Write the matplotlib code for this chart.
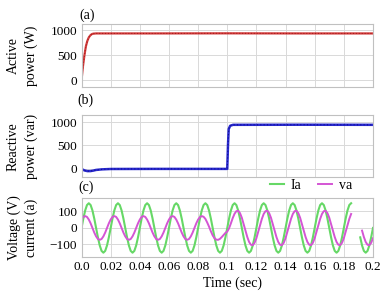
import numpy as np
import matplotlib
matplotlib.use("Agg")
import matplotlib.pyplot as plt

plt.rcParams['font.family'] = ['Liberation Serif', 'DejaVu Serif']

# (a) active power
t_p = [0, 0.001, 0.002, 0.003, 0.004, 0.005, 0.006, 0.007, 0.008, 0.010, 0.015, 0.05, 0.1, 0.15, 0.2]
p_active = [0, 280, 500, 680, 790, 860, 900, 925, 935, 940, 940, 940, 942, 940, 940]

# (b) reactive power
t_q = [0, 0.002, 0.004, 0.006, 0.008, 0.010, 0.014, 0.02, 0.05, 0.0995, 0.1, 0.1005, 0.101, 0.102, 0.104, 0.15, 0.2]
q_react = [0, -30, -45, -45, -35, -20, -8, 0, 2, 2, 2, 500, 850, 920, 940, 942, 940]

# (c) voltage / current, sampled every 1.25 ms
t_c = np.linspace(0, 0.2, 161)
nan = np.nan
ia = [0, 57, 106, 139, 150, 139, 106, 57, 0, -57, -106, -139, -150, -139, -106, -57,
      0, 57, 106, 139, 150, 139, 106, 57, 0, -57, -106, -139, -150, -139, -106, -57,
      0, 57, 106, 139, 150, 139, 106, 57, 0, -57, -106, -139, -150, -139, -106, -57,
      0, 57, 106, 139, 150, 139, 106, 57, 0, -57, -106, -139, -150, -139, -106, -57,
      0, 57, 106, 139, 150, 139, 106, 57, 0, -57, -106, -139, -150, -139, -106, -57,
      0, 57, 106, 139, 150, 139, 106, 57, 0, -57, -106, -139, -150, -139, -106, -57,
      0, 57, 106, 139, 150, 139, 106, 57, 0, -57, -106, -139, -150, -139, -106, -57,
      0, 57, 106, 139, 150, 139, 106, 57, 0, -57, -106, -139, -150, -139, -106, -57,
      0, 57, 106, 139, 150, 139, 106, 57, 0, -57, -106, -139, -150, -139, -106, -57,
      0, 57, 106, 139, 150, nan, nan, nan, nan, -57, -106, -139, -150, -139, -106, -57,
      0]
va = [51, 67, 72, 67, 51, 28, 0, -28, -51, -67, -72, -67, -51, -28, 0, 28,
      51, 67, 72, 67, 51, 28, 0, -28, -51, -67, -72, -67, -51, -28, 0, 28,
      51, 67, 72, 67, 51, 28, 0, -28, -51, -67, -72, -67, -51, -28, 0, 28,
      51, 67, 72, 67, 51, 28, 0, -28, -51, -67, -72, -67, -51, -28, 0, 28,
      51, 66, 72, 68, 55, 33, 8, -20, -45, -62, -71, -72, -66, -55, -42, -30,
      -22, -2, 28, 60, 86, 102, 104, 90, 62, 24, -16, -55, -85, -102, -104, -90,
      -62, -24, 16, 55, 85, 102, 104, 90, 62, 24, -16, -55, -85, -102, -104, -90,
      -62, -24, 16, 55, 85, 102, 104, 90, 62, 24, -16, -55, -85, -102, -104, -90,
      -62, -24, 16, 55, 85, 102, 104, 90, 62, 24, -16, -55, -85, -102, -104, -90,
      -62, -24, 16, 55, 85, nan, nan, nan, nan, nan, -16, -55, -85, -102, -104, -90,
      -62]

xticks = [0, 0.02, 0.04, 0.06, 0.08, 0.1, 0.12, 0.14, 0.16, 0.18, 0.2]
xlabels = ['0.0', '0.02', '0.04', '0.06', '0.08', '0.1', '0.12', '0.14', '0.16', '0.18', '0.2']

fig = plt.figure(figsize=(3.82, 3.02), dpi=100)
L, W = 0.2134, 0.763
ax_a = fig.add_axes([L, 0.7119, W, 0.2086])
ax_b = fig.add_axes([L, 0.4129, W, 0.2063])
ax_c = fig.add_axes([L, 0.148, W, 0.1954])

fs = 9.5
for ax in (ax_a, ax_b, ax_c):
    ax.set_xlim(0, 0.2)
    ax.set_xticks(xticks)
    ax.grid(True, color='#d9d9d9', lw=0.7)
    ax.set_axisbelow(True)
    ax.tick_params(length=0, labelsize=fs, pad=3)
    for s in ax.spines.values():
        s.set_color('#c0c0c0')
        s.set_linewidth(0.8)

ax_a.set_xticklabels([])
ax_b.set_xticklabels([])
ax_c.set_xticklabels(xlabels)

ax_a.plot(t_p, p_active, color='#d23c3c', lw=1.6)
ax_a.plot(t_p, p_active, color='#a01818', lw=0.7, ls=(0, (1, 2)))
ax_a.set_ylim(-140, 1130)
ax_a.set_yticks([0, 500, 1000])

ax_b.plot(t_q, q_react, color='#2a2ad0', lw=1.8)
ax_b.plot(t_q, q_react, color='#10108a', lw=0.8, ls=(0, (1, 2)))
ax_b.set_ylim(-177, 1149)
ax_b.set_yticks([0, 500, 1000])

ax_c.plot(t_c, ia, color='#66d866', lw=1.5, label='Ia')
ax_c.plot(t_c, va, color='#d455d4', lw=1.4, label='va')
ax_c.set_ylim(-178, 180)
ax_c.set_yticks([-100, 0, 100])

ax_a.set_ylabel('Active\npower (W)', fontsize=10, linespacing=1.45)
ax_b.set_ylabel('Reactive\npower (var)', fontsize=10, linespacing=1.45)
ax_c.set_ylabel('Voltage (V)\ncurrent (a)', fontsize=10, linespacing=1.3)
for ax in (ax_a, ax_b, ax_c):
    ax.yaxis.set_label_coords(-0.15, 0.5)

ax_c.legend(loc='center', bbox_to_anchor=(0.787, 1.225), ncol=2, frameon=False,
            fontsize=10, handlelength=1.0, handletextpad=0.5, columnspacing=1.2,
            borderpad=0, borderaxespad=0)

fig.text(79 / 382, 1 - 15 / 302, '(a)', fontsize=10, va='center', ha='left')
fig.text(77 / 382, 1 - 100 / 302, '(b)', fontsize=10, va='center', ha='left')
fig.text(78 / 382, 1 - 187 / 302, '(c)', fontsize=10, va='center', ha='left')
fig.text(233 / 382, 1 - 283 / 302, 'Time (sec)', fontsize=10, va='center', ha='center')

fig.savefig('out.png', dpi=100)
